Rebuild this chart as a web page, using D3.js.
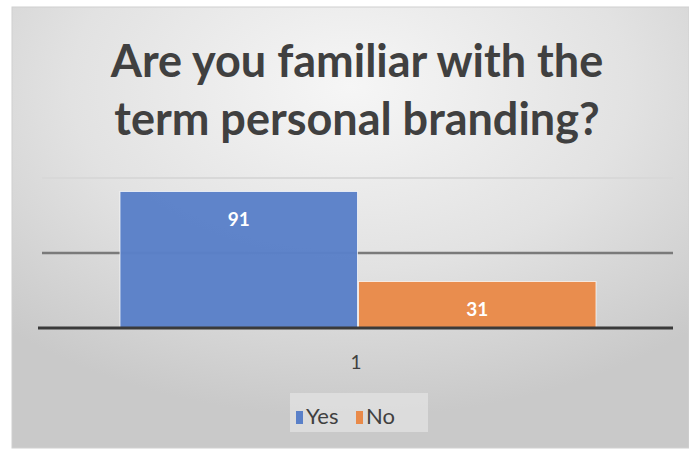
<!DOCTYPE html>
<html>
<head>
<meta charset="utf-8">
<script src="https://cdn.jsdelivr.net/npm/d3@7"></script>
<style>
  html, body { margin: 0; padding: 0; background: #ffffff; }
  svg { display: block; }
</style>
</head>
<body>
<svg id="chart" width="689" height="451"></svg>
<script>
// Survey answers
const titleLines = ["Are you familiar with the", "term personal branding?"];
const categories = ["1"];
const seriesNames = ["Yes", "No"];
const seriesValues = [91, 31];
const seriesColors = ["#5a80c8", "#e98a49"];
const gridTicks = [0, 50, 100];

const W = 689, H = 451;
const svg = d3.select("#chart");

// Card background with soft radial shading
const defs = svg.append("defs");
const grad = defs.append("radialGradient")
  .attr("id", "bg").attr("cx", "50%").attr("cy", "18%").attr("r", "75%")
  .attr("fx", "50%").attr("fy", "18%");
grad.append("stop").attr("offset", "0%").attr("stop-color", "#f6f6f6");
grad.append("stop").attr("offset", "55%").attr("stop-color", "#e2e2e2");
grad.append("stop").attr("offset", "100%").attr("stop-color", "#c9c9c9");

svg.append("rect")
  .attr("x", 12).attr("y", 7).attr("width", W - 12).attr("height", 441)
  .attr("fill", "url(#bg)")
  .attr("stroke", "#d0d0d0").attr("stroke-width", 1);

// Title
svg.append("g").selectAll("text").data(titleLines).join("text")
  .attr("x", 357).attr("y", (d, i) => 77 + i * 58)
  .attr("text-anchor", "middle")
  .attr("font-family", "Lato, 'Open Sans', sans-serif")
  .attr("font-weight", 700).attr("font-size", 45)
  .attr("fill", "#404040")
  .text(d => d);

// Scales
const plot = { left: 40, right: 676, top: 178, bottom: 328 };
const y = d3.scaleLinear().domain([0, 100]).range([plot.bottom, plot.top]);
const x0 = d3.scaleBand().domain(categories).range([plot.left, plot.right]).paddingInner(0).paddingOuter(0.1667);
const x1 = d3.scaleBand().domain(seriesNames).range([0, x0.bandwidth()]).padding(0);

// Gridlines
svg.append("g").selectAll("line").data(gridTicks.filter(t => t > 0)).join("line")
  .attr("x1", plot.left + 2).attr("x2", 673)
  .attr("y1", d => y(d)).attr("y2", d => y(d))
  .attr("stroke", d => d === 100 ? "#d8d8d8" : "#7a7a7a")
  .attr("stroke-width", d => d === 100 ? 2 : 2.5);

// Bars
const data = seriesNames.map((s, i) => ({ name: s, value: seriesValues[i], color: seriesColors[i] }));
const barG = svg.append("g").attr("transform", `translate(${x0(categories[0])},0)`);
barG.selectAll("rect").data(data).join("rect")
  .attr("x", d => x1(d.name) + 0.5)
  .attr("y", d => y(d.value))
  .attr("width", x1.bandwidth() - 1)
  .attr("height", d => y(0) - y(d.value))
  .attr("fill", d => d.color)
  .attr("fill-opacity", 0.97)
  .attr("stroke", "#ffffff").attr("stroke-opacity", 0.7).attr("stroke-width", 1);

// Value labels
barG.selectAll("text").data(data).join("text")
  .attr("x", d => x1(d.name) + x1.bandwidth() / 2)
  .attr("y", d => y(d.value) + 34)
  .attr("text-anchor", "middle")
  .attr("font-family", "Lato, 'Open Sans', sans-serif")
  .attr("font-weight", 700).attr("font-size", 19)
  .attr("fill", "#ffffff")
  .text(d => d.value);

// Baseline axis
svg.append("line")
  .attr("x1", plot.left - 2).attr("x2", 673)
  .attr("y1", y(0)).attr("y2", y(0))
  .attr("stroke", "#3a3a3a").attr("stroke-width", 3);

// Category label
svg.append("g").selectAll("text").data(categories).join("text")
  .attr("x", 356)
  .attr("y", 369)
  .attr("text-anchor", "middle")
  .attr("font-family", "Lato, 'Open Sans', sans-serif")
  .attr("font-size", 19)
  .attr("fill", "#404040")
  .text(d => d);

// Legend
const legend = svg.append("g");
legend.append("rect")
  .attr("x", 290).attr("y", 393).attr("width", 138).attr("height", 39)
  .attr("fill", "#e4e4e4").attr("fill-opacity", 0.7);
const legendX = [296, 356];
const items = legend.selectAll("g").data(data).join("g")
  .attr("transform", (d, i) => `translate(${legendX[i]},0)`);
items.append("rect")
  .attr("x", 0).attr("y", 411).attr("width", 7).attr("height", 13)
  .attr("fill", d => d.color);
items.append("text")
  .attr("x", 10).attr("y", 424)
  .attr("font-family", "Lato, 'Open Sans', sans-serif")
  .attr("font-size", 22)
  .attr("fill", "#404040")
  .text(d => d.name);
</script>
</body>
</html>
